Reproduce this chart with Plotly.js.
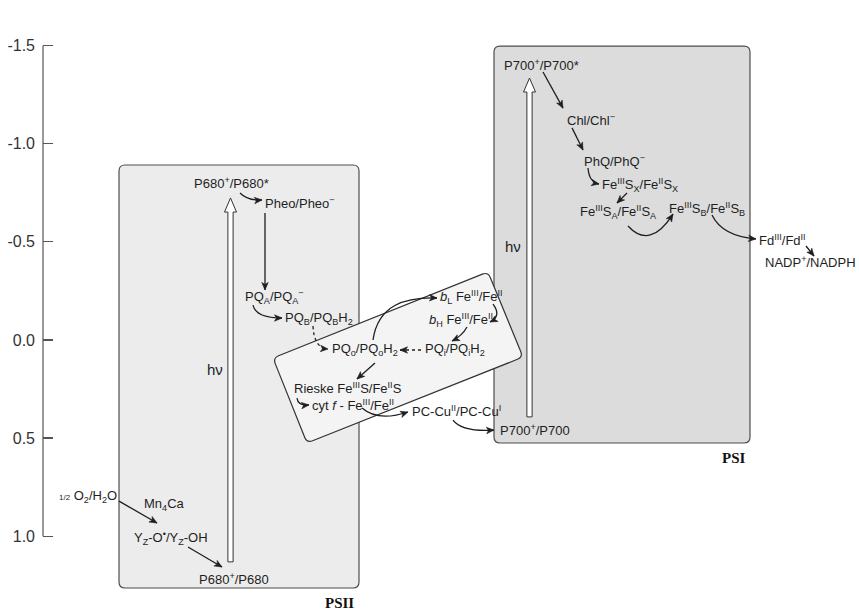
<!DOCTYPE html>
<html>
<head>
<meta charset="utf-8">
<script src="https://cdn.plot.ly/plotly-3.0.1.min.js"></script>
<style>html,body{margin:0;padding:0;background:#fff;}#chart{width:859px;height:612px;}</style>
</head>
<body>
<div id="chart"></div>
<script>
// ---- Data: redox couples and their midpoint potentials (V) ----
const speciesText = [
  "P680<sup>+</sup>/P680*",
  "Pheo/Pheo<sup>−</sup>",
  "PQ<sub>A</sub>/PQ<sub>A</sub><sup>−</sup>",
  "PQ<sub>B</sub>/PQ<sub>B</sub>H<sub>2</sub>",
  "PQ<sub>o</sub>/PQ<sub>o</sub>H<sub>2</sub>",
  "PQ<sub>i</sub>/PQ<sub>i</sub>H<sub>2</sub>",
  "<i>b</i><sub>L</sub> Fe<sup>III</sup>/Fe<sup>II</sup>",
  "<i>b</i><sub>H</sub> Fe<sup>III</sup>/Fe<sup>II</sup>",
  "Rieske Fe<sup>III</sup>S/Fe<sup>II</sup>S",
  "cyt <i>f</i> - Fe<sup>III</sup>/Fe<sup>II</sup>",
  "PC-Cu<sup>II</sup>/PC-Cu<sup>I</sup>",
  "P700<sup>+</sup>/P700",
  "P680<sup>+</sup>/P680",
  "Y<sub>Z</sub>-O<sup>•</sup>/Y<sub>Z</sub>-OH",
  "Mn<sub>4</sub>Ca",
  "<span style='font-size:8px'>1/2</span> O<sub>2</sub>/H<sub>2</sub>O",
  "P700<sup>+</sup>/P700*",
  "Chl/Chl<sup>−</sup>",
  "PhQ/PhQ<sup>−</sup>",
  "Fe<sup>III</sup>S<sub>X</sub>/Fe<sup>II</sup>S<sub>X</sub>",
  "Fe<sup>III</sup>S<sub>A</sub>/Fe<sup>II</sup>S<sub>A</sub>",
  "Fe<sup>III</sup>S<sub>B</sub>/Fe<sup>II</sup>S<sub>B</sub>",
  "Fd<sup>III</sup>/Fd<sup>II</sup>",
  "NADP<sup>+</sup>/NADPH"
];
const speciesPotential = [
  -0.80, -0.70, -0.22, -0.11, 0.05, 0.05, -0.22, -0.10, 0.245, 0.33, 0.36, 0.46,
  1.22, 1.01, 0.84, 0.80, -1.40, -1.12, -0.91, -0.79, -0.65, -0.67, -0.51, -0.40
];
// horizontal placement of each label (hidden x axis, layout units)
const speciesX = [
  192, 263, 243, 283, 330, 423, 438, 427, 292, 310, 410, 498,
  197, 132, 142, 57, 502, 565, 582, 600, 578, 667, 757, 763
];

// Axis ticks
const tickValues = [-1.5, -1.0, -0.5, 0.0, 0.5, 1.0];
const tickLabels = ["-1.5", "-1.0", "-0.5", "0.0", "0.5", "1.0"];

// ---- Layout decorations (x: layout units, y: volts) ----
const PXV = 196.2; // px per volt (for sizing only)
const boxPSII = [[119, -0.892], [359, -0.892], [359, 1.264], [119, 1.264]];
const boxPSI  = [[494, -1.498], [750, -1.498], [750, 0.525], [494, 0.525]];
const boxCyt  = [[273, 0.092], [488, -0.347], [523, 0.087], [307, 0.525]];
const hvPSII = {cx: 230.5, bottom: 1.131, headBase: -0.652, tip: -0.724};
const hvPSI  = {cx: 529.5, bottom: 0.392, headBase: -1.264, tip: -1.335};

const connectors = [
  {p: [[240,-0.749],[248,-0.708],[262,-0.714]]},
  {p: [[265,-0.647],[265,-0.255]]},
  {p: [[253,-0.178],[256,-0.112],[282,-0.112]]},
  {p: [[313,-0.071],[314,0.041],[328,0.046]], dash: 'dot'},
  {p: [[373,0.0],[378,-0.178],[405,-0.219],[437,-0.214]]},
  {p: [[493,-0.183],[502,-0.122],[490,-0.092]]},
  {p: [[467,-0.066],[462,-0.020],[452,0.005]]},
  {p: [[421,0.051],[400,0.051]], dash: 'dot'},
  {p: [[375,0.117],[357,0.199]]},
  {p: [[297,0.296],[298,0.336],[309,0.331]]},
  {p: [[362,0.347],[378,0.418],[408,0.367]]},
  {p: [[453,0.408],[462,0.469],[494,0.459]]},
  {p: [[543,-1.366],[563,-1.182]]},
  {p: [[572,-1.081],[583,-0.968]]},
  {p: [[588,-0.877],[589,-0.805],[599,-0.795]]},
  {p: [[627,-0.749],[617,-0.698]]},
  {p: [[628,-0.581],[650,-0.459],[673,-0.642]]},
  {p: [[712,-0.637],[722,-0.530],[756,-0.515]]},
  {p: [[806,-0.479],[814,-0.428]]},
  {p: [[119,0.821],[157,0.933]]},
  {p: [[188,1.055],[222,1.157]]}
];

const hvLabels = [{x: 214.5, y: 0.148}, {x: 513, y: -0.479}];
const psLabels = [{t: "PSII", x: 356, y: 1.34}, {t: "PSI", x: 748, y: 0.601}];

// ---- helpers ----
function roundPoly(pts, r) {
  // rounded polygon; geometry computed in px space, emitted in data space
  const P = pts.map(p => [p[0], p[1] * PXV]);
  const n = P.length;
  const toD = q => `${q[0].toFixed(2)},${(q[1] / PXV).toFixed(5)}`;
  let d = '';
  for (let i = 0; i < n; i++) {
    const c = P[i], a = P[(i - 1 + n) % n], b = P[(i + 1) % n];
    const la = Math.hypot(a[0]-c[0], a[1]-c[1]), lb = Math.hypot(b[0]-c[0], b[1]-c[1]);
    const s = [c[0] + (a[0]-c[0]) / la * r, c[1] + (a[1]-c[1]) / la * r];
    const e = [c[0] + (b[0]-c[0]) / lb * r, c[1] + (b[1]-c[1]) / lb * r];
    d += (i === 0 ? 'M' : ' L') + toD(s) + ' Q' + toD(c) + ' ' + toD(e);
  }
  return d + ' Z';
}
function hvPath(h) {
  const sw = 2.6, hw = 6;
  return `M${h.cx-sw},${h.bottom} L${h.cx-sw},${h.headBase} L${h.cx-hw},${h.headBase} L${h.cx},${h.tip} ` +
         `L${h.cx+hw},${h.headBase} L${h.cx+sw},${h.headBase} L${h.cx+sw},${h.bottom} Z`;
}
function headPath(e, q) {
  // stealth arrow head at e, pointing away from q (px space math)
  const ex = e[0], ey = e[1] * PXV, dx = ex - q[0], dy = ey - q[1] * PXV;
  const L = Math.hypot(dx, dy) || 1, ux = dx / L, uy = dy / L, nx = -uy, ny = ux;
  const len = 7.5, hw = 3.2, notch = 5.5;
  const pts = [[ex, ey],
    [ex - ux*len + nx*hw, ey - uy*len + ny*hw],
    [ex - ux*notch, ey - uy*notch],
    [ex - ux*len - nx*hw, ey - uy*len - ny*hw]];
  return 'M' + pts.map(p => `${p[0].toFixed(2)},${(p[1] / PXV).toFixed(5)}`).join(' L') + ' Z';
}

const shapes = [];
const annotations = [];
const ink = '#1e1e1e';
const border = '#4d4d4d';

shapes.push({type: 'path', xref: 'x', yref: 'y', path: roundPoly(boxPSII, 6), fillcolor: '#ececec', line: {color: border, width: 1.2}, layer: 'below'});
shapes.push({type: 'path', xref: 'x', yref: 'y', path: roundPoly(boxPSI, 6), fillcolor: '#dcdcdc', line: {color: border, width: 1.2}, layer: 'below'});
shapes.push({type: 'path', xref: 'x', yref: 'y', path: roundPoly(boxCyt, 6), fillcolor: '#f4f4f4', line: {color: '#333', width: 1.2}, layer: 'below'});

// y axis line from -1.5 to 1.0
shapes.push({type: 'line', xref: 'paper', yref: 'y', x0: 0, x1: 0, y0: tickValues[0], y1: tickValues[tickValues.length-1], line: {color: '#555', width: 1.2}});

// hv arrows
[hvPSII, hvPSI].forEach(h => shapes.push({type: 'path', xref: 'x', yref: 'y', path: hvPath(h), fillcolor: '#ffffff', line: {color: '#333', width: 1}}));

// connectors
connectors.forEach(c => {
  const p = c.p;
  let d = `M${p[0][0]},${p[0][1]}`;
  if (p.length === 2) d += ` L${p[1][0]},${p[1][1]}`;
  else if (p.length === 3) d += ` Q${p[1][0]},${p[1][1]} ${p[2][0]},${p[2][1]}`;
  else d += ` C${p[1][0]},${p[1][1]} ${p[2][0]},${p[2][1]} ${p[3][0]},${p[3][1]}`;
  shapes.push({type: 'path', xref: 'x', yref: 'y', path: d, line: {color: ink, width: 1.3, dash: c.dash || 'solid'}});
  shapes.push({type: 'path', xref: 'x', yref: 'y', path: headPath(p[p.length-1], p[p.length-2]),
    fillcolor: ink, line: {color: ink, width: 0.6}});
});

// species labels
speciesText.forEach((t, i) => annotations.push({
  x: speciesX[i], y: speciesPotential[i], xref: 'x', yref: 'y', text: t, showarrow: false,
  xanchor: 'left', yanchor: 'middle', font: {family: 'Liberation Sans, Arial, sans-serif', size: 13, color: ink}
}));
hvLabels.forEach(h => annotations.push({x: h.x, y: h.y, xref: 'x', yref: 'y', text: 'hν', showarrow: false,
  font: {family: 'Liberation Sans, Arial, sans-serif', size: 15, color: ink}}));
psLabels.forEach(h => annotations.push({x: h.x, y: h.y, xref: 'x', yref: 'y', text: '<b>' + h.t + '</b>', showarrow: false,
  xanchor: 'right', font: {family: 'Liberation Serif, Times New Roman, serif', size: 15, color: '#111'}}));

const trace = {x: speciesX, y: speciesPotential, mode: 'markers', type: 'scatter',
  marker: {opacity: 0}, hoverinfo: 'skip', showlegend: false};

const layout = {
  width: 859, height: 612,
  margin: {l: 43, r: 0, t: 0, b: 0},
  paper_bgcolor: '#fff', plot_bgcolor: '#fff',
  showlegend: false,
  xaxis: {range: [43, 859], visible: false, fixedrange: true},
  yaxis: {range: [1.3864, -1.7329], tickmode: 'array', tickvals: tickValues, ticktext: tickLabels,
    ticks: 'inside', ticklen: 10, tickwidth: 1.2, tickcolor: '#555', showgrid: false, zeroline: false, showline: false,
    ticklabelstandoff: 7,
    tickfont: {family: 'Liberation Sans, Arial, sans-serif', size: 16, color: '#333'}, fixedrange: true},
  shapes: shapes,
  annotations: annotations
};

Plotly.newPlot('chart', [trace], layout, {displayModeBar: false, staticPlot: true});
</script>
</body>
</html>
